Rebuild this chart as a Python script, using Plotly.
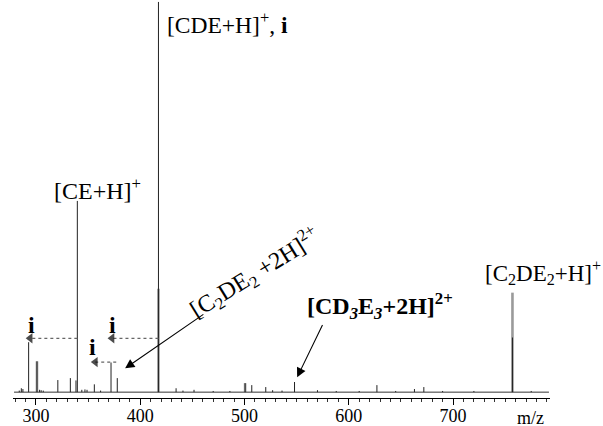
import plotly.graph_objects as go

# ---- data (m/z, relative intensity %) ----
peak_mz = [284, 286, 287.5, 293, 301, 303.5, 305, 307, 321, 333, 338.4, 339.7,
           344, 347, 349, 356, 362, 372, 378, 417.5, 434.4, 441, 451.6, 470,
           486, 500.6, 507, 520.4, 527, 536, 548, 570, 588, 610, 627, 645,
           663, 672, 690, 720, 757, 775]
peak_int = [0.4, 1.0, 0.8, 12.8, 7.9, 0.6, 0.5, 0.4, 3.1, 3.6, 3.0, 49.0,
            0.6, 0.7, 0.6, 2.0, 0.4, 7.6, 3.6, 100.0, 1.0, 0.4, 0.6, 0.3,
            0.3, 2.3, 1.8, 1.3, 0.5, 0.4, 2.6, 0.5, 0.3, 0.3, 1.8, 0.3,
            0.8, 1.3, 0.3, 0.3, 14.0, 0.3]
env_mz = [301, 417.5, 500.6, 757]          # grey unresolved envelopes
env_int = [7.9, 26.5, 2.3, 25.5]
baseline_mz = [279, 792]
baseline_int = [0, 0]
tick_vals = [300, 400, 500, 600, 700]
tick_text = ["300", "400", "500", "600", "700"]

# loss arrows "i": (from m/z, to m/z, level %)
loss_from = [339.7, 417.5, 377.0]
loss_to = [294.5, 373.0, 357.0]
loss_level = [13.8, 13.8, 7.7]
i_label_mz = [295.5, 373.5, 354.0]
i_label_int = [17.2, 17.2, 11.5]


def sticks(mz, h):
    xs, ys = [], []
    for m, v in zip(mz, h):
        xs += [m, m, None]
        ys += [0, v, None]
    return xs, ys


fig = go.Figure()
ex, ey = sticks(env_mz, env_int)
fig.add_trace(go.Scatter(x=ex, y=ey, mode="lines",
                         line=dict(color="#9a9a9a", width=2.6), hoverinfo="skip"))
fig.add_trace(go.Scatter(x=baseline_mz, y=baseline_int, mode="lines",
                         line=dict(color="#333", width=1), hoverinfo="skip"))
px_, py_ = sticks(peak_mz, peak_int)
fig.add_trace(go.Scatter(x=px_, y=py_, mode="lines",
                         line=dict(color="#222", width=1), hoverinfo="skip"))

for a, b, lv in zip(loss_from, loss_to, loss_level):
    fig.add_trace(go.Scatter(x=[a, b], y=[lv, lv], mode="lines+markers",
                             line=dict(color="#666", width=1.2, dash="dot"),
                             marker=dict(symbol="triangle-left", size=[0, 9],
                                         color="black", line=dict(width=0)),
                             hoverinfo="skip"))

serif = "Liberation Serif, Times New Roman, serif"
ann = []
for xm, yi in zip(i_label_mz, i_label_int):
    ann.append(dict(x=xm, y=yi, text="<b>i</b>", showarrow=False,
                    font=dict(size=24)))
ann += [
    dict(x=423.5, y=94.5, xanchor="left", text="[CDE+H]<sup>+</sup>, <b>i</b>",
         showarrow=False, font=dict(size=23.5)),
    dict(x=315.0, y=52.0, xanchor="left", text="[CE+H]<sup>+</sup>",
         showarrow=False, font=dict(size=24)),
    dict(x=729, y=30.6, xanchor="left",
         text="[C<sub>2</sub>DE<sub>2</sub>+H]<sup>+</sup>",
         showarrow=False, font=dict(size=23)),
    dict(x=558, y=22.0, xanchor="left",
         text="<b>[CD<sub><i>3</i></sub>E<sub><i>3</i></sub>+2H]<sup>2+</sup></b>",
         showarrow=False, font=dict(size=24)),
    dict(x=510, y=30.6, text="[C<sub>2</sub>DE<sub>2</sub> +2H]<sup>2+</sup>",
         textangle=-31.6, showarrow=False, font=dict(size=24)),
    # pointer arrows
    dict(x=385.5, y=6.1, ax=462, ay=20.2, axref="x", ayref="y", text="",
         showarrow=True, arrowhead=2, arrowsize=1.7, arrowwidth=1.1,
         arrowcolor="black"),
    dict(x=550.5, y=3.8, ax=575.5, ay=17.6, axref="x", ayref="y", text="",
         showarrow=True, arrowhead=2, arrowsize=1.7, arrowwidth=1.1,
         arrowcolor="black"),
    dict(x=0.9926, y=-0.05, xref="paper", yref="paper", yanchor="middle",
         text="m/z", showarrow=False, font=dict(size=18)),
]

fig.update_layout(
    width=603, height=426,
    margin=dict(l=13, r=53, t=0, b=28),
    paper_bgcolor="white", plot_bgcolor="white",
    showlegend=False,
    font=dict(family=serif, color="black", size=18),
    annotations=ann,
)
fig.update_xaxes(range=[278, 793], showgrid=False, zeroline=False,
                 automargin=False,
                 showline=True, linecolor="black", linewidth=1,
                 tickvals=tick_vals, ticktext=tick_text, ticks="outside",
                 ticklen=6, tickcolor="black", tickfont=dict(size=18),
                 ticklabelstandoff=-5,
                 minor=dict(dtick=10, tick0=0, ticks="outside", ticklen=3,
                            tickcolor="#333"))
fig.update_yaxes(range=[-1.5, 100.5], visible=False, showgrid=False,
                 zeroline=False, automargin=False)

fig.write_html("out.html", config={"displayModeBar": False},
               post_script="document.body.style.margin='0';")
